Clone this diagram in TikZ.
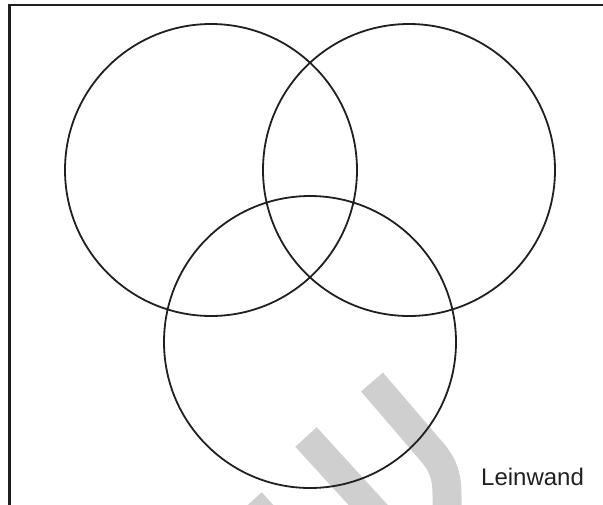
\documentclass[tikz,border=0pt]{standalone}
\usepackage{fontspec}
\setmainfont{Liberation Sans}
\definecolor{ink}{RGB}{35,31,32}
\definecolor{wm}{RGB}{207,207,207}
\begin{document}
\begin{tikzpicture}[x=1pt,y=-1pt,
  ring/.style={circle,draw=ink,line width=1.8pt,minimum size=292pt,inner sep=0pt},
  wmark/.style={draw=wm,line width=29pt,line cap=butt},
  frameline/.style={draw=ink,line width=2.2pt}]
\useasboundingbox (0,0) rectangle (603,504);
\begin{scope}
\clip (0,0) rectangle (603,504);
\draw[wmark] (306,437) -- (380,518);
\draw[wmark] (372,382) -- (432,452) .. controls (445,467) and (447,480) .. (447,495) -- (447,520);
\draw[wmark] (251,502) -- (290,545);
\end{scope}
\coordinate (tl) at (9.5,5);
\coordinate (tr) at (604,5);
\coordinate (bl) at (9.5,505);
\draw[frameline] (tr) -- (tl) -- (bl);
\node[ring] (c1) at (211,170) {};
\node[ring] (c2) at (409,170) {};
\node[ring] (c3) at (310,342) {};
\node[anchor=base west,inner sep=0pt,text=ink,font=\fontsize{24}{28}\selectfont] (lw) at (481,485) {Leinwand};
\end{tikzpicture}
\end{document}
